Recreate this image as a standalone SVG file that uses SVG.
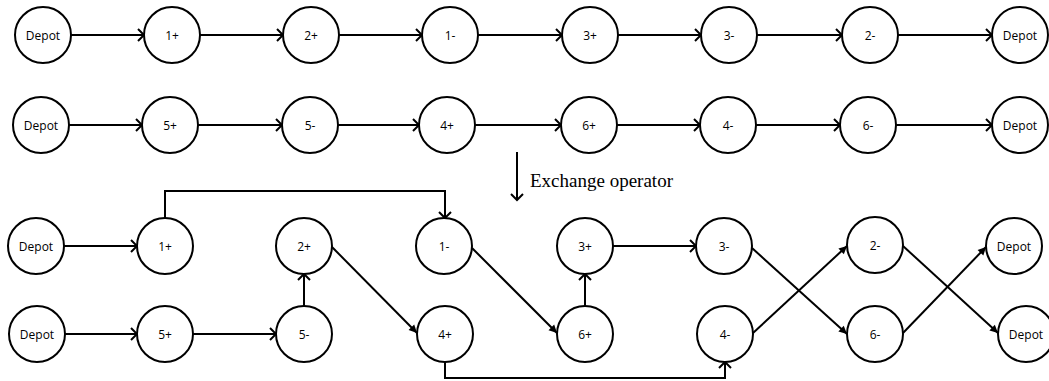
<svg xmlns="http://www.w3.org/2000/svg" width="1049" height="381" viewBox="0 0 1049 381">
<style>
.n circle{fill:#fff;stroke:#000;stroke-width:2}
.n text{font-family:"Open Sans","Liberation Sans",sans-serif;font-size:12px;fill:#000;text-anchor:middle;dominant-baseline:central}
.c line,.c polyline{stroke:#000;stroke-width:2;fill:none}
.o{marker-end:url(#open)}
.f{marker-end:url(#fill)}
.lbl{font-family:"Liberation Serif","Times New Roman",serif;font-size:19px;fill:#000}
</style>
<defs>
<marker id="open" markerUnits="userSpaceOnUse" markerWidth="12" markerHeight="14" refX="8" refY="6" orient="auto" overflow="visible">
<path d="M2,0 L8,6 L2,12" fill="none" stroke="#000" stroke-width="2"/>
</marker>
<marker id="fill" markerUnits="userSpaceOnUse" markerWidth="12" markerHeight="12" refX="8" refY="4" orient="auto" overflow="visible">
<path d="M0,0 L8,4 L0,8 Z" fill="#000"/>
</marker>
</defs>
<g class="c" id="connectors">
<line class="o" x1="71" y1="35" x2="144" y2="35"/>
<line class="o" x1="200" y1="35" x2="283" y2="35"/>
<line class="o" x1="339" y1="35" x2="422" y2="35"/>
<line class="o" x1="478" y1="35" x2="562" y2="35"/>
<line class="o" x1="618" y1="35" x2="701" y2="35"/>
<line class="o" x1="757" y1="35" x2="842" y2="35"/>
<line class="o" x1="898" y1="35" x2="992" y2="35"/>
<line class="o" x1="69" y1="125" x2="142" y2="125"/>
<line class="o" x1="198" y1="125" x2="282" y2="125"/>
<line class="o" x1="338" y1="125" x2="419" y2="125"/>
<line class="o" x1="475" y1="125" x2="561" y2="125"/>
<line class="o" x1="617" y1="125" x2="700" y2="125"/>
<line class="o" x1="756" y1="125" x2="840" y2="125"/>
<line class="o" x1="896" y1="125" x2="992" y2="125"/>
<line class="o" x1="517" y1="152" x2="517" y2="200"/>
<line class="o" x1="64" y1="246" x2="137" y2="246"/>
<polyline class="o" points="165,218 165,191 445,191 445,218"/>
<line class="f" x1="332" y1="247" x2="417" y2="333"/>
<line class="f" x1="472" y1="248" x2="557" y2="333"/>
<line class="o" x1="613" y1="246" x2="696" y2="246"/>
<line class="f" x1="752" y1="248" x2="847" y2="334"/>
<line class="f" x1="753" y1="333" x2="847" y2="246"/>
<line class="f" x1="903" y1="246" x2="998" y2="333"/>
<line class="f" x1="903" y1="333" x2="986" y2="247"/>
<line class="o" x1="65" y1="334" x2="137" y2="334"/>
<line class="o" x1="193" y1="334" x2="276" y2="334"/>
<line class="o" x1="304" y1="306" x2="304" y2="274"/>
<line class="o" x1="585" y1="306" x2="585" y2="274"/>
<polyline class="o" points="445,362 445,378 725,378 725,362"/>
</g>
<text class="lbl" x="530" y="187">Exchange operator</text>
<g class="n" id="r1-depot-start"><circle cx="43" cy="35" r="28"/><text x="43" y="35">Depot</text></g>
<g class="n" id="r1-1p"><circle cx="172" cy="35" r="28"/><text x="172" y="35">1+</text></g>
<g class="n" id="r1-2p"><circle cx="311" cy="35" r="28"/><text x="311" y="35">2+</text></g>
<g class="n" id="r1-1m"><circle cx="450" cy="35" r="28"/><text x="450" y="35">1-</text></g>
<g class="n" id="r1-3p"><circle cx="590" cy="35" r="28"/><text x="590" y="35">3+</text></g>
<g class="n" id="r1-3m"><circle cx="729" cy="35" r="28"/><text x="729" y="35">3-</text></g>
<g class="n" id="r1-2m"><circle cx="870" cy="35" r="28"/><text x="870" y="35">2-</text></g>
<g class="n" id="r1-depot-end"><circle cx="1020" cy="35" r="28"/><text x="1020" y="35">Depot</text></g>
<g class="n" id="r2-depot-start"><circle cx="41" cy="125" r="28"/><text x="41" y="125">Depot</text></g>
<g class="n" id="r2-5p"><circle cx="170" cy="125" r="28"/><text x="170" y="125">5+</text></g>
<g class="n" id="r2-5m"><circle cx="310" cy="125" r="28"/><text x="310" y="125">5-</text></g>
<g class="n" id="r2-4p"><circle cx="447" cy="125" r="28"/><text x="447" y="125">4+</text></g>
<g class="n" id="r2-6p"><circle cx="589" cy="125" r="28"/><text x="589" y="125">6+</text></g>
<g class="n" id="r2-4m"><circle cx="728" cy="125" r="28"/><text x="728" y="125">4-</text></g>
<g class="n" id="r2-6m"><circle cx="868" cy="125" r="28"/><text x="868" y="125">6-</text></g>
<g class="n" id="r2-depot-end"><circle cx="1020" cy="125" r="28"/><text x="1020" y="125">Depot</text></g>
<g class="n" id="r3-depot"><circle cx="36" cy="246" r="28"/><text x="36" y="246">Depot</text></g>
<g class="n" id="r3-1p"><circle cx="165" cy="246" r="28"/><text x="165" y="246">1+</text></g>
<g class="n" id="r3-2p"><circle cx="304" cy="246" r="28"/><text x="304" y="246">2+</text></g>
<g class="n" id="r3-1m"><circle cx="444" cy="246" r="28"/><text x="444" y="246">1-</text></g>
<g class="n" id="r3-3p"><circle cx="585" cy="246" r="28"/><text x="585" y="246">3+</text></g>
<g class="n" id="r3-3m"><circle cx="724" cy="246" r="28"/><text x="724" y="246">3-</text></g>
<g class="n" id="r3-2m"><circle cx="875" cy="245" r="28"/><text x="875" y="245">2-</text></g>
<g class="n" id="r3-depot-end"><circle cx="1014" cy="246" r="28"/><text x="1014" y="246">Depot</text></g>
<g class="n" id="r4-depot"><circle cx="37" cy="334" r="28"/><text x="37" y="334">Depot</text></g>
<g class="n" id="r4-5p"><circle cx="165" cy="334" r="28"/><text x="165" y="334">5+</text></g>
<g class="n" id="r4-5m"><circle cx="304" cy="334" r="28"/><text x="304" y="334">5-</text></g>
<g class="n" id="r4-4p"><circle cx="445" cy="334" r="28"/><text x="445" y="334">4+</text></g>
<g class="n" id="r4-6p"><circle cx="585" cy="334" r="28"/><text x="585" y="334">6+</text></g>
<g class="n" id="r4-4m"><circle cx="725" cy="334" r="28"/><text x="725" y="334">4-</text></g>
<g class="n" id="r4-6m"><circle cx="875" cy="334" r="28"/><text x="875" y="334">6-</text></g>
<g class="n" id="r4-depot-end"><circle cx="1026" cy="334" r="28"/><text x="1026" y="334">Depot</text></g>
</svg>
